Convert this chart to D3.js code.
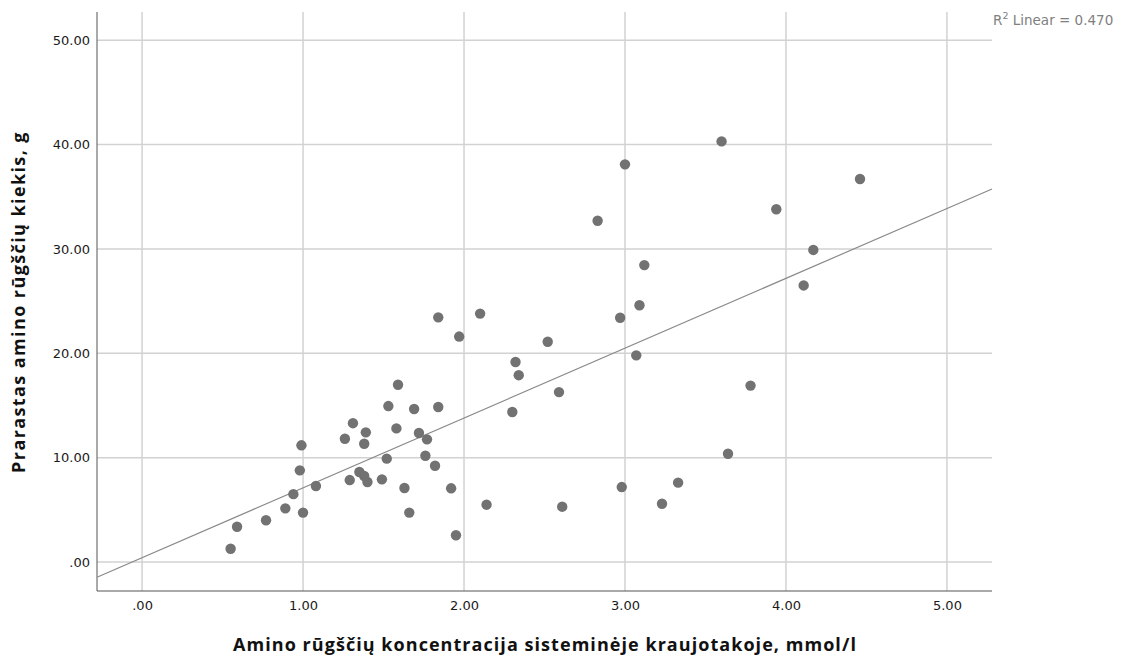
<!DOCTYPE html>
<html>
<head>
<meta charset="utf-8">
<script src="https://cdn.jsdelivr.net/npm/d3@7"></script>
<style>
  body { margin: 0; background: #fff; }
  svg { display: block; }
  .tick text { font-family: "DejaVu Sans", sans-serif; font-size: 13px; fill: #1a1a1a; }
</style>
</head>
<body>
<script>
"use strict";
// amino acid concentration (mmol/l) vs lost amino acids (g)
const concentration = [0.55, 0.59, 0.77, 0.89, 0.94, 0.98, 0.99, 1.00, 1.08, 1.26,
    1.31, 1.29, 1.35, 1.38, 1.40, 1.39, 1.38, 1.49, 1.52, 1.53,
    1.58, 1.59, 1.63, 1.66, 1.69, 1.72, 1.77, 1.76, 1.82, 1.84,
    1.92, 1.95, 1.84, 1.97, 2.10, 2.14, 2.30, 2.32, 2.34, 2.52,
    2.59, 2.61, 2.83, 2.97, 2.98, 3.00, 3.07, 3.09, 3.12, 3.23,
    3.33, 3.60, 3.64, 3.78, 3.94, 4.11, 4.17, 4.46]
const lost = [1.27, 3.38, 4.00, 5.14, 6.50, 8.78, 11.18, 4.73, 7.28, 11.81,
    13.30, 7.85, 8.62, 8.24, 7.66, 12.42, 11.33, 7.92, 9.90, 14.94,
    12.80, 16.98, 7.09, 4.73, 14.66, 12.36, 11.75, 10.18, 9.22, 14.85,
    7.06, 2.56, 23.44, 21.60, 23.80, 5.49, 14.37, 19.16, 17.90, 21.10,
    16.28, 5.30, 32.70, 23.40, 7.18, 38.10, 19.80, 24.60, 28.45, 5.58,
    7.60, 40.30, 10.37, 16.90, 33.80, 26.50, 29.90, 36.70]
const xTicks = [0, 1, 2, 3, 4, 5]
const yTicks = [0, 10, 20, 30, 40, 50]
const rSquaredLabel = "0.470"

const width = 1123, height = 657
const plot = { left: 97, right: 992, top: 12, bottom: 591 }

const svg = d3.select("body").append("svg")
    .attr("width", width)
    .attr("height", height)

const x = d3.scaleLinear().domain([-0.28, 5.28]).range([plot.left, plot.right])
const y = d3.scaleLinear().domain([-2.78, 52.7]).range([plot.bottom, plot.top])

// SPSS style labels: .00, 1.00 ...
const fmt = v => d3.format(".2f")(v).replace(/^0\./, ".")

// gridlines
svg.append("g").selectAll("line").data(yTicks).join("line")
    .attr("x1", plot.left).attr("x2", plot.right)
    .attr("y1", d => y(d)).attr("y2", d => y(d))
    .attr("stroke", "#d2d2d2").attr("stroke-width", 1.5)
svg.append("g").selectAll("line").data(xTicks).join("line")
    .attr("x1", d => x(d)).attr("x2", d => x(d))
    .attr("y1", plot.top).attr("y2", plot.bottom)
    .attr("stroke", "#d2d2d2").attr("stroke-width", 1.5)

// axes (no tick marks)
const xAxis = d3.axisBottom(x).tickValues(xTicks).tickFormat(fmt).tickSize(0).tickPadding(10)
const yAxis = d3.axisLeft(y).tickValues(yTicks).tickFormat(fmt).tickSize(0).tickPadding(7)
svg.append("g").attr("transform", `translate(0,${plot.bottom})`).call(xAxis)
    .call(g => g.select(".domain").attr("stroke", "#555").attr("d", `M${plot.left},0H${plot.right}`))
svg.append("g").attr("transform", `translate(${plot.left},0)`).call(yAxis)
    .call(g => g.select(".domain").attr("stroke", "#555").attr("d", `M0,${plot.top}V${plot.bottom}`))

// least squares fit line
const mx = d3.mean(concentration), my = d3.mean(lost)
let sxy = 0, sxx = 0
concentration.forEach((c, i) => { sxy += (c - mx) * (lost[i] - my); sxx += (c - mx) * (c - mx) })
const slope = sxy / sxx
const intercept = my - slope * mx
const xd = x.domain()
svg.append("line")
    .attr("x1", x(xd[0])).attr("y1", y(intercept + slope * xd[0]))
    .attr("x2", x(xd[1])).attr("y2", y(intercept + slope * xd[1]))
    .attr("stroke", "#8a8a8a").attr("stroke-width", 1.2)

// points
svg.append("g").selectAll("circle").data(concentration).join("circle")
    .attr("cx", d => x(d))
    .attr("cy", (d, i) => y(lost[i]))
    .attr("r", 5.2)
    .attr("fill", "#727272")

// R2 annotation
const r2 = svg.append("text")
    .attr("x", 993).attr("y", 25)
    .style("font-family", "DejaVu Sans, sans-serif")
    .style("font-size", "13.5px")
    .attr("fill", "#808080")
r2.append("tspan").text("R")
r2.append("tspan").attr("dy", -6).style("font-size", "9.5px").text("2")
r2.append("tspan").attr("dy", 6).text(" Linear = " + rSquaredLabel)

// axis titles
svg.append("text")
    .attr("x", 545).attr("y", 651)
    .attr("text-anchor", "middle")
    .style("font-family", "Open Sans, sans-serif")
    .style("font-weight", "bold")
    .style("font-size", "18px")
    .style("letter-spacing", "1.05px")
    .attr("fill", "#111")
    .text("Amino rūgščių koncentracija sisteminėje kraujotakoje, mmol/l")
svg.append("text")
    .attr("transform", "translate(25,302) rotate(-90)")
    .attr("text-anchor", "middle")
    .style("font-family", "Open Sans, sans-serif")
    .style("font-weight", "bold")
    .style("font-size", "18px")
    .style("letter-spacing", "1.4px")
    .attr("fill", "#111")
    .text("Prarastas amino rūgščių kiekis, g")
</script>
</body>
</html>
